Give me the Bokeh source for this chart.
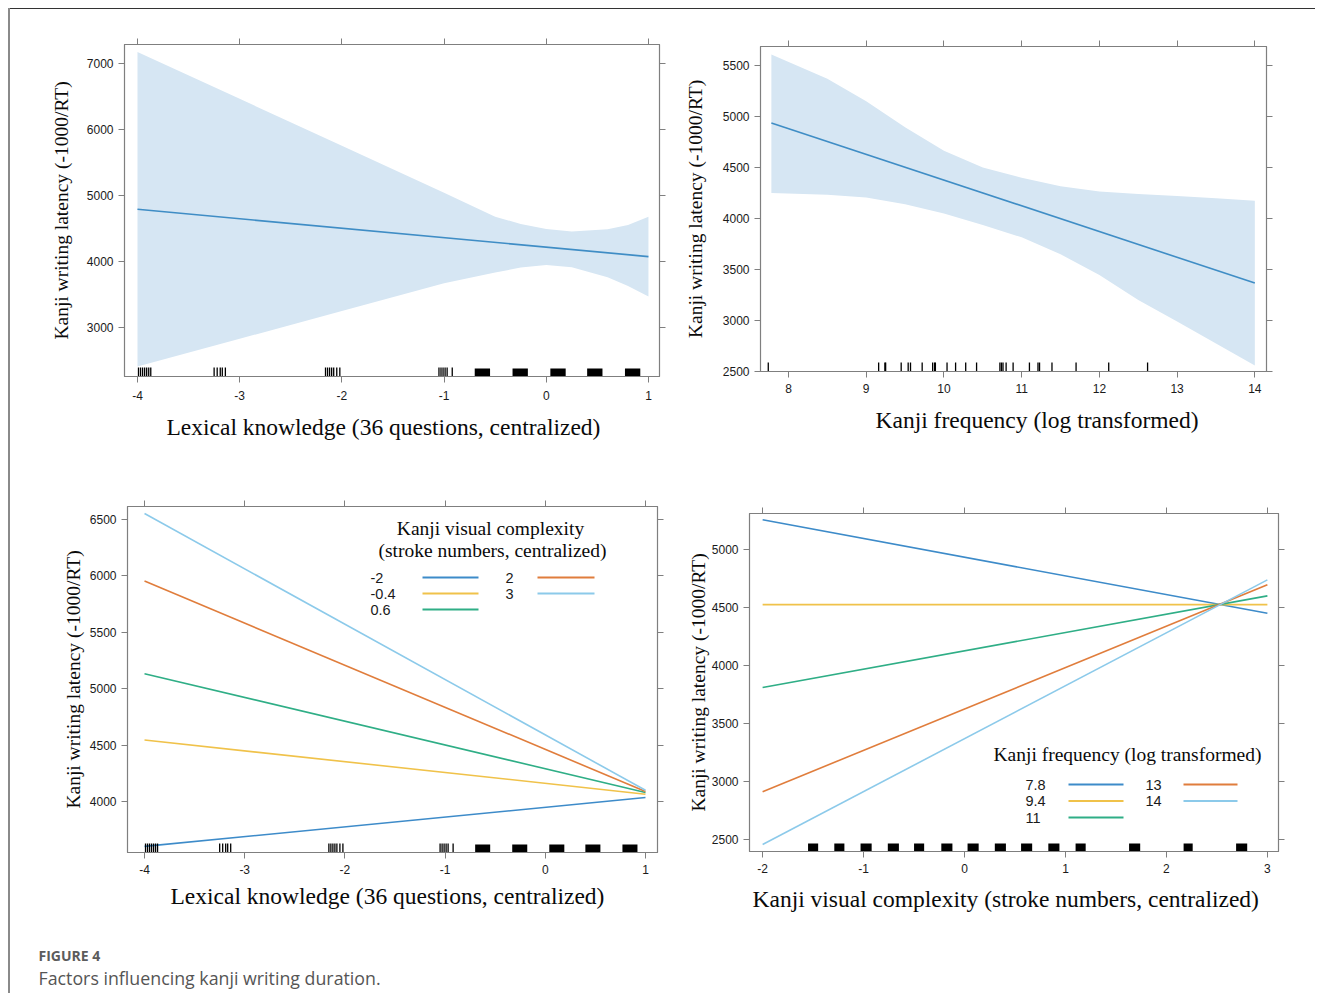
from bokeh.plotting import figure
from bokeh.models import LinearAxis, FixedTicker, Range1d, Spacer, Title
from bokeh.layouts import row, column
from bokeh.embed import file_html
from bokeh.resources import INLINE
from bokeh.core.properties import value

# ---------------- data ----------------
# Panel A: lexical knowledge main effect
lex_line_x = [-4, 1]
lex_line_y = [4791, 4074]
lex_band_x = [-4, -3, -2, -1, -0.5, -0.25, 0, 0.25, 0.6, 0.8, 1]
lex_band_hi = [7176, 6465, 5754, 5043, 4680, 4569, 4493, 4453, 4488, 4554, 4680]
lex_band_lo = [2410, 2829, 3252, 3671, 3832, 3908, 3948, 3913, 3762, 3630, 3469]
lex_rug = [-3.99, -3.97, -3.95, -3.93, -3.91, -3.89, -3.87,
           -3.25, -3.22, -3.19, -3.17, -3.14,
           -2.16, -2.14, -2.12, -2.10, -2.08, -2.05, -2.02,
           -1.05, -1.03, -1.01, -0.99, -0.97, -0.92]
lex_rug_lo = [-0.70, -0.33, 0.04, 0.40, 0.77]
lex_rug_hi = [-0.55, -0.18, 0.19, 0.55, 0.92]

# Panel B: kanji frequency main effect
frq_line_x = [7.78, 14]
frq_line_y = [4937, 3367]
frq_band_x = [7.78, 8.5, 9.0, 9.5, 10.0, 10.5, 11.0, 11.5, 12.0, 12.5, 13.0, 13.5, 14.0]
frq_band_hi = [5608, 5370, 5150, 4895, 4665, 4500, 4400, 4315, 4265, 4240, 4220, 4198, 4175]
frq_band_lo = [4250, 4232, 4205, 4140, 4050, 3935, 3815, 3650, 3445, 3200, 2990, 2775, 2560]
frq_rug = [7.74, 9.16, 9.24, 9.25, 9.45, 9.54, 9.57, 9.72, 9.855, 9.88, 9.89, 10.04,
           10.15, 10.28, 10.42, 10.72, 10.74, 10.76, 10.80, 10.89, 11.10, 11.21,
           11.23, 11.39, 11.70, 12.12, 12.62]

# Panel C: lexical knowledge x visual complexity
cx_levels = ["-2", "-0.4", "0.6", "2", "3"]
cx_x = [-4, 1]
cx_start = [3602, 4545, 5133, 5954, 6553]
cx_end = [4035, 4065, 4080, 4089, 4100]

# Panel D: visual complexity x kanji frequency
fq_levels = ["7.8", "9.4", "11", "13", "14"]
vc_x = [-2, 3]
fq_start = [5256, 4525, 3810, 2912, 2457]
fq_end = [4450, 4525, 4600, 4695, 4738]
vc_rug_lo = [-1.55, -1.29, -1.03, -0.76, -0.50, -0.23, 0.03, 0.30, 0.56, 0.83, 1.10, 1.63, 2.17, 2.69]
vc_rug_hi = [-1.45, -1.19, -0.92, -0.65, -0.40, -0.12, 0.14, 0.41, 0.67, 0.94, 1.20, 1.74, 2.26, 2.80]

# tick labels
lex_ticks = [-4, -3, -2, -1, 0, 1]
frq_ticks = [8, 9, 10, 11, 12, 13, 14]
vc_ticks = [-2, -1, 0, 1, 2, 3]

ylab = "Kanji writing latency (-1000/RT)"
xlab_lex = "Lexical knowledge (36 questions, centralized)"
xlab_frq = "Kanji frequency (log transformed)"
xlab_vc = "Kanji visual complexity (stroke numbers, centralized)"
leg_c_title = ["Kanji visual complexity", "(stroke numbers, centralized)"]
leg_d_title = "Kanji frequency (log transformed)"
caption_head = "FIGURE 4"
caption_text = "Factors influencing kanji writing duration."

# ---------------- style ----------------
SERIF = "Liberation Serif"
SANS = "Liberation Sans"
AX = "#7f7f7f"
TXT = "#1a1a1a"
BAND = "#d6e6f3"
MAIN = "#3f8dc5"
PAL = ["#3d8bc9", "#f0c24a", "#2fae86", "#e07d3c", "#8ccaea"]


class Panel:
    def __init__(self, xr, yr, xticks, yticks, fw, fh, bl, br, bt, bb,
                 xlabel, xlab_offset, xlab_stand, tick_fs, xtick_stand, ylab_stand, left_px, top_px):
        self.xr, self.yr, self.fw, self.fh = xr, yr, fw, fh
        self.left_px, self.top_px = left_px, top_px
        p = figure(x_range=Range1d(*xr), y_range=Range1d(*yr),
                   frame_width=fw, frame_height=fh,
                   min_border_left=bl, min_border_right=br,
                   min_border_top=bt, min_border_bottom=bb,
                   output_backend="svg", toolbar_location=None, tools="")
        p.xgrid.visible = False
        p.ygrid.visible = False
        p.outline_line_color = AX
        p.outline_line_width = 1.2
        p.background_fill_color = "white"
        p.border_fill_color = "white"
        for ax, ticks in ((p.xaxis[0], xticks), (p.yaxis[0], yticks)):
            ax.ticker = FixedTicker(ticks=ticks)
            ax.major_label_overrides = {t: str(t) for t in ticks}
            ax.minor_tick_line_color = None
            ax.major_tick_out = 6
            ax.major_tick_in = 0
            ax.major_tick_line_color = AX
            ax.axis_line_color = AX
            ax.major_label_text_font = SANS
            ax.major_label_text_font_size = tick_fs
            ax.major_label_text_color = TXT
        ya = p.yaxis[0]
        ya.axis_label = ylab
        ya.axis_label_text_font = SERIF
        ya.axis_label_text_font_style = "normal"
        ya.axis_label_text_color = "#0a0a0a"
        ya.axis_label_standoff = ylab_stand
        ya.axis_label_text_font_size = "19.5px"
        ya.major_label_standoff = 5
        p.xaxis[0].major_label_standoff = xtick_stand
        for loc, ticks in (("above", xticks), ("right", yticks)):
            a = LinearAxis(ticker=FixedTicker(ticks=ticks))
            a.major_label_overrides = {t: "" for t in ticks}
            a.major_label_text_font_size = "1px"
            a.major_label_standoff = 0
            a.minor_tick_line_color = None
            a.major_tick_out = 6
            a.major_tick_in = 0
            a.major_tick_line_color = AX
            a.axis_line_color = AX
            p.add_layout(a, loc)
        # x axis title as a left-aligned title below the axis, shifted to where the original sits
        p.add_layout(Title(text=xlabel, align="left", offset=xlab_offset, standoff=xlab_stand,
                           text_font=SERIF, text_font_size="23.5px", text_font_style="normal",
                           text_color="#0a0a0a"), "below")
        self.p = p

    def dx(self, px):
        return self.xr[0] + (px - self.left_px) / self.fw * (self.xr[1] - self.xr[0])

    def dy(self, py):
        return self.yr[1] - (py - self.top_px) / self.fh * (self.yr[1] - self.yr[0])

    def rug_h(self, px):
        return px / self.fh * (self.yr[1] - self.yr[0])


# ---------------- panel A ----------------
A = Panel((-4.127, 1.108), (2258, 7288), lex_ticks, [3000, 4000, 5000, 6000, 7000],
          535, 332, 114, 21, 35, 79, xlab_lex, 42, 19, "12px", 8, 12, 124, 44)
pa = A.p
pa.varea(x=lex_band_x, y1=lex_band_lo, y2=lex_band_hi, fill_color=BAND)
pa.line(lex_line_x, lex_line_y, line_color=MAIN, line_width=1.6)
y0 = A.yr[0]
pa.segment(x0=lex_rug, y0=y0, x1=lex_rug, y1=y0 + A.rug_h(9), line_color="black", line_width=1.3)
pa.quad(left=lex_rug_lo, right=lex_rug_hi, bottom=y0, top=y0 + A.rug_h(8), fill_color="black", line_color=None)

# ---------------- panel B ----------------
B = Panel((7.64, 14.15), (2500, 5686), frq_ticks, [2500, 3000, 3500, 4000, 4500, 5000, 5500],
          506, 325, 80, 49, 37, 84, xlab_frq, 115, 19, "12px", 6, 14, 760, 46)
pb = B.p
pb.varea(x=frq_band_x, y1=frq_band_lo, y2=frq_band_hi, fill_color=BAND)
pb.line(frq_line_x, frq_line_y, line_color=MAIN, line_width=1.6)
y0 = B.yr[0]
pb.segment(x0=frq_rug, y0=y0, x1=frq_rug, y1=y0 + B.rug_h(9), line_color="black", line_width=1.3)

# ---------------- panel C ----------------
C = Panel((-4.17, 1.12), (3548, 6615), lex_ticks, [4000, 4500, 5000, 5500, 6000, 6500],
          530, 346, 117, 23, 51, 78, xlab_lex, 43, 8, "12px", 6, 3, 127, 506)
pc = C.p
for i, lev in enumerate(cx_levels):
    pc.line(cx_x, [cx_start[i], cx_end[i]], line_color=PAL[i], line_width=1.6)
y0 = C.yr[0]
pc.segment(x0=lex_rug, y0=y0, x1=lex_rug, y1=y0 + C.rug_h(9), line_color="black", line_width=1.3)
pc.quad(left=lex_rug_lo, right=lex_rug_hi, bottom=y0, top=y0 + C.rug_h(8), fill_color="black", line_color=None)
pc.text(x=[C.dx(490), C.dx(492)], y=[C.dy(528), C.dy(550)], text=leg_c_title,
        text_font=value(SERIF), text_font_size="19.5px", text_align="center",
        text_baseline="middle", text_color="#0a0a0a")
for i, lev in enumerate(cx_levels):
    col, r = (0, i) if i < 3 else (1, i - 3)
    ty = C.dy(577 + 16 * r)
    tx = [370, 505][col]
    lx0, lx1 = [(422, 478), (537, 594)][col]
    pc.text(x=[C.dx(tx)], y=[ty], text=[lev], text_font=value(SANS), text_font_size="14.5px",
            text_align="left", text_baseline="middle", text_color=TXT)
    pc.line([C.dx(lx0), C.dx(lx1)], [ty, ty], line_color=PAL[i], line_width=1.8)

# ---------------- panel D ----------------
D = Panel((-2.13, 3.11), (2397, 5310), vc_ticks, [2500, 3000, 3500, 4000, 4500, 5000],
          529, 338, 69, 37, 58, 79, xlab_vc, 3, 16, "12px", 6, 0, 749, 513)
pd_ = D.p
for i, lev in enumerate(fq_levels):
    pd_.line(vc_x, [fq_start[i], fq_end[i]], line_color=PAL[i], line_width=1.6)
y0 = D.yr[0]
pd_.quad(left=vc_rug_lo, right=vc_rug_hi, bottom=y0, top=y0 + D.rug_h(8), fill_color="black", line_color=None)
pd_.text(x=[D.dx(1127)], y=[D.dy(754)], text=[leg_d_title],
         text_font=value(SERIF), text_font_size="19.5px", text_align="center",
         text_baseline="middle", text_color="#0a0a0a")
for i, lev in enumerate(fq_levels):
    col, r = (0, i) if i < 3 else (1, i - 3)
    ty = D.dy(784 + 16.5 * r)
    tx = [1025, 1145][col]
    lx0, lx1 = [(1068, 1123), (1183, 1237)][col]
    pd_.text(x=[D.dx(tx)], y=[ty], text=[lev], text_font=value(SANS), text_font_size="14.5px",
             text_align="left", text_baseline="middle", text_color=TXT)
    pd_.line([D.dx(lx0), D.dx(lx1)], [ty, ty], line_color=PAL[i], line_width=1.8)

# ---------------- caption ----------------
cap = figure(width=1305, height=63, x_range=Range1d(0, 1305), y_range=Range1d(63, 0),
             min_border=0, output_backend="svg", toolbar_location=None, tools="")
cap.xaxis.visible = False
cap.yaxis.visible = False
cap.xgrid.visible = False
cap.ygrid.visible = False
cap.outline_line_color = None
cap.text(x=[28], y=[25], text=[caption_head], text_font=value("Open Sans"), text_font_size="14px",
         text_font_style="bold", text_color="#5c5c5c", text_baseline="middle")
cap.text(x=[28], y=[47], text=[caption_text], text_font=value("Open Sans"), text_font_size="17.8px",
         text_color="#555555", text_baseline="middle")

left_border = Spacer(width=2, height=985, styles={"background-color": "#8a8a8a"})
top_border = Spacer(width=1305, height=1, styles={"background-color": "#333333"})

layout = column(Spacer(width=1, height=8),
                row(Spacer(width=8, height=1), left_border,
                    column(top_border,
                           row(column(pa), column(pb)),
                           row(column(pc), column(pd_)),
                           cap)))

open("out.html", "w").write(file_html(layout, INLINE))
